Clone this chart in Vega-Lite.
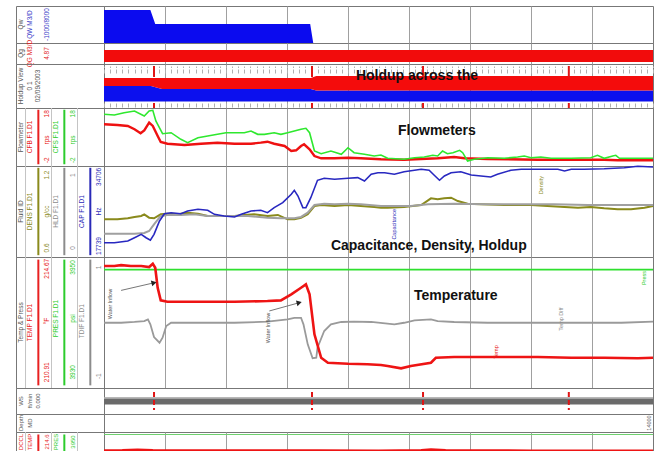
{
"$schema":"https://vega.github.io/schema/vega-lite/v6.json",
"background":"white",
"padding":{"left":15,"top":5,"right":0,"bottom":0},
"columns":2,
"spacing":0,
"bounds":"flush",
"align":"each",
"config":{"view":{"stroke":"#777777","strokeWidth":1},"concat":{"spacing":0},"font":"Liberation Sans"},
"datasets":{
"qw":[{"depth":13910,"value":89.2},{"depth":13917.6,"value":89.2},{"depth":13918.4,"value":51.4},{"depth":13943.8,"value":51.4},{"depth":13944.3,"value":0}],
"qg":[{"depth":13910,"lo":9.5,"hi":66.7},{"depth":14000,"lo":9.5,"hi":66.7}],
"holdup":[{"depth":13910,"wbot":14.8,"wtop":50,"otop":68.2},{"depth":13917.7,"wbot":14.8,"wtop":50,"otop":68.2},{"depth":13919.5,"wbot":14.8,"wtop":43.2,"otop":68.2},{"depth":13943.9,"wbot":14.8,"wtop":43.2,"otop":68.2},{"depth":13944.8,"wbot":14.8,"wtop":39.8,"otop":72.7},{"depth":14000,"wbot":14.8,"wtop":39.8,"otop":72.7}],
"markers":[{"depth":13918.2},{"depth":13944.1},{"depth":13962.3},{"depth":13986.2}],
"flow":[
{"curve":"CFS","depth":13910.0,"value":89.1},{"curve":"CFS","depth":13911.7,"value":87.9},{"curve":"CFS","depth":13913.3,"value":91.9},{"curve":"CFS","depth":13915.0,"value":94.8},{"curve":"CFS","depth":13916.6,"value":86.2},{"curve":"CFS","depth":13917.4,"value":94.8},{"curve":"CFS","depth":13918.0,"value":96.0},{"curve":"CFS","depth":13918.5,"value":77.6},{"curve":"CFS","depth":13919.6,"value":55.7},{"curve":"CFS","depth":13921.0,"value":57.4},{"curve":"CFS","depth":13922.6,"value":46.0},{"curve":"CFS","depth":13923.7,"value":40.2},{"curve":"CFS","depth":13925.4,"value":48.8},{"curve":"CFS","depth":13927.0,"value":51.7},{"curve":"CFS","depth":13928.6,"value":54.6},{"curve":"CFS","depth":13930.0,"value":57.4},{"curve":"CFS","depth":13931.4,"value":57.4},{"curve":"CFS","depth":13933.0,"value":57.4},{"curve":"CFS","depth":13934.1,"value":60.3},{"curve":"CFS","depth":13935.2,"value":54.6},{"curve":"CFS","depth":13936.3,"value":54.6},{"curve":"CFS","depth":13937.9,"value":57.4},{"curve":"CFS","depth":13939.0,"value":54.6},{"curve":"CFS","depth":13940.1,"value":57.4},{"curve":"CFS","depth":13941.2,"value":60.3},{"curve":"CFS","depth":13942.3,"value":63.3},{"curve":"CFS","depth":13943.1,"value":65.0},{"curve":"CFS","depth":13943.7,"value":57.4},{"curve":"CFS","depth":13944.5,"value":25.9},{"curve":"CFS","depth":13945.6,"value":21.2},{"curve":"CFS","depth":13947.2,"value":25.9},{"curve":"CFS","depth":13948.9,"value":20.2},{"curve":"CFS","depth":13950.0,"value":31.5},{"curve":"CFS","depth":13951.0,"value":22.9},{"curve":"CFS","depth":13952.7,"value":20.2},{"curve":"CFS","depth":13954.3,"value":17.2},{"curve":"CFS","depth":13955.4,"value":19.0},{"curve":"CFS","depth":13956.5,"value":13.3},{"curve":"CFS","depth":13959.2,"value":11.6},{"curve":"CFS","depth":13960.9,"value":14.3},{"curve":"CFS","depth":13962.5,"value":15.5},{"curve":"CFS","depth":13963.9,"value":18.4},{"curve":"CFS","depth":13964.7,"value":17.2},{"curve":"CFS","depth":13965.5,"value":25.9},{"curve":"CFS","depth":13966.3,"value":21.2},{"curve":"CFS","depth":13967.2,"value":22.9},{"curve":"CFS","depth":13968.3,"value":27.1},{"curve":"CFS","depth":13968.8,"value":22.9},{"curve":"CFS","depth":13969.6,"value":8.6},{"curve":"CFS","depth":13970.7,"value":11.6},{"curve":"CFS","depth":13972.9,"value":14.3},{"curve":"CFS","depth":13975.6,"value":13.3},{"curve":"CFS","depth":13977.8,"value":15.5},{"curve":"CFS","depth":13978.9,"value":17.2},{"curve":"CFS","depth":13980.0,"value":14.3},{"curve":"CFS","depth":13981.6,"value":15.5},{"curve":"CFS","depth":13983.3,"value":13.3},{"curve":"CFS","depth":13986.6,"value":13.3},{"curve":"CFS","depth":13989.8,"value":14.3},{"curve":"CFS","depth":13990.9,"value":18.4},{"curve":"CFS","depth":13992.0,"value":13.3},{"curve":"CFS","depth":13993.4,"value":17.2},{"curve":"CFS","depth":13993.9,"value":18.4},{"curve":"CFS","depth":13994.5,"value":13.3},{"curve":"CFS","depth":13997.5,"value":13.3},{"curve":"CFS","depth":14000.0,"value":13.3},
{"curve":"CFB","depth":13910.0,"value":71.9},{"curve":"CFB","depth":13912.2,"value":70.7},{"curve":"CFB","depth":13913.9,"value":69.0},{"curve":"CFB","depth":13915.0,"value":63.3},{"curve":"CFB","depth":13916.0,"value":56.4},{"curve":"CFB","depth":13916.6,"value":61.5},{"curve":"CFB","depth":13917.4,"value":74.7},{"curve":"CFB","depth":13918.0,"value":69.0},{"curve":"CFB","depth":13918.8,"value":51.7},{"curve":"CFB","depth":13919.3,"value":41.4},{"curve":"CFB","depth":13920.4,"value":38.4},{"curve":"CFB","depth":13923.2,"value":36.2},{"curve":"CFB","depth":13925.9,"value":38.4},{"curve":"CFB","depth":13928.6,"value":40.2},{"curve":"CFB","depth":13931.4,"value":38.4},{"curve":"CFB","depth":13934.1,"value":38.4},{"curve":"CFB","depth":13935.7,"value":40.2},{"curve":"CFB","depth":13936.8,"value":41.9},{"curve":"CFB","depth":13937.9,"value":38.4},{"curve":"CFB","depth":13939.6,"value":34.5},{"curve":"CFB","depth":13940.7,"value":25.9},{"curve":"CFB","depth":13941.5,"value":27.1},{"curve":"CFB","depth":13942.3,"value":34.5},{"curve":"CFB","depth":13942.8,"value":37.4},{"curve":"CFB","depth":13943.7,"value":28.8},{"curve":"CFB","depth":13944.5,"value":17.2},{"curve":"CFB","depth":13945.6,"value":13.3},{"curve":"CFB","depth":13947.8,"value":13.3},{"curve":"CFB","depth":13950.0,"value":14.3},{"curve":"CFB","depth":13952.1,"value":13.3},{"curve":"CFB","depth":13955.4,"value":11.6},{"curve":"CFB","depth":13959.2,"value":10.9},{"curve":"CFB","depth":13964.7,"value":13.3},{"curve":"CFB","depth":13967.4,"value":15.5},{"curve":"CFB","depth":13969.1,"value":13.3},{"curve":"CFB","depth":13972.9,"value":12.1},{"curve":"CFB","depth":13981.1,"value":10.9},{"curve":"CFB","depth":13992.0,"value":10.9},{"curve":"CFB","depth":13994.2,"value":9.8},{"curve":"CFB","depth":14000.0,"value":9.8}
],
"fluid":[
{"curve":"CAP","depth":13910.0,"value":15.7},{"curve":"CAP","depth":13911.7,"value":15.7},{"curve":"CAP","depth":13913.9,"value":17.6},{"curve":"CAP","depth":13915.0,"value":21.2},{"curve":"CAP","depth":13916.1,"value":24.9},{"curve":"CAP","depth":13916.9,"value":21.2},{"curve":"CAP","depth":13917.6,"value":18.4},{"curve":"CAP","depth":13918.2,"value":24.9},{"curve":"CAP","depth":13919.1,"value":39.6},{"curve":"CAP","depth":13919.9,"value":47.6},{"curve":"CAP","depth":13921.0,"value":48.7},{"curve":"CAP","depth":13922.6,"value":47.6},{"curve":"CAP","depth":13923.7,"value":50.6},{"curve":"CAP","depth":13925.4,"value":52.4},{"curve":"CAP","depth":13927.0,"value":51.3},{"curve":"CAP","depth":13928.1,"value":46.9},{"curve":"CAP","depth":13929.7,"value":45.1},{"curve":"CAP","depth":13931.4,"value":44.0},{"curve":"CAP","depth":13932.5,"value":46.9},{"curve":"CAP","depth":13934.1,"value":50.6},{"curve":"CAP","depth":13935.7,"value":51.3},{"curve":"CAP","depth":13936.8,"value":48.7},{"curve":"CAP","depth":13937.9,"value":54.2},{"curve":"CAP","depth":13939.3,"value":59.7},{"curve":"CAP","depth":13940.7,"value":68.9},{"curve":"CAP","depth":13941.2,"value":73.3},{"curve":"CAP","depth":13941.8,"value":67.0},{"curve":"CAP","depth":13942.6,"value":54.2},{"curve":"CAP","depth":13943.1,"value":54.2},{"curve":"CAP","depth":13943.9,"value":65.2},{"curve":"CAP","depth":13945.0,"value":84.3},{"curve":"CAP","depth":13946.1,"value":86.5},{"curve":"CAP","depth":13947.8,"value":85.4},{"curve":"CAP","depth":13950.0,"value":86.5},{"curve":"CAP","depth":13951.6,"value":87.2},{"curve":"CAP","depth":13952.7,"value":83.5},{"curve":"CAP","depth":13953.8,"value":90.9},{"curve":"CAP","depth":13954.9,"value":92.6},{"curve":"CAP","depth":13956.0,"value":92.6},{"curve":"CAP","depth":13957.6,"value":90.9},{"curve":"CAP","depth":13959.2,"value":93.7},{"curve":"CAP","depth":13960.9,"value":95.3},{"curve":"CAP","depth":13962.0,"value":96.4},{"curve":"CAP","depth":13963.3,"value":95.3},{"curve":"CAP","depth":13964.1,"value":90.1},{"curve":"CAP","depth":13965.0,"value":84.3},{"curve":"CAP","depth":13965.8,"value":89.0},{"curve":"CAP","depth":13966.9,"value":92.6},{"curve":"CAP","depth":13968.5,"value":93.7},{"curve":"CAP","depth":13970.2,"value":90.1},{"curve":"CAP","depth":13971.8,"value":89.0},{"curve":"CAP","depth":13973.4,"value":87.9},{"curve":"CAP","depth":13974.5,"value":90.9},{"curve":"CAP","depth":13976.7,"value":95.3},{"curve":"CAP","depth":13978.4,"value":96.4},{"curve":"CAP","depth":13982.2,"value":96.4},{"curve":"CAP","depth":13984.4,"value":96.4},{"curve":"CAP","depth":13985.5,"value":94.5},{"curve":"CAP","depth":13986.6,"value":96.4},{"curve":"CAP","depth":13988.7,"value":96.4},{"curve":"CAP","depth":13992.0,"value":97.0},{"curve":"CAP","depth":13995.3,"value":98.1},{"curve":"CAP","depth":13997.5,"value":99.7},{"curve":"CAP","depth":14000.0,"value":98.9},
{"curve":"DENS","depth":13910.0,"value":41.4},{"curve":"DENS","depth":13912.2,"value":41.4},{"curve":"DENS","depth":13913.9,"value":42.5},{"curve":"DENS","depth":13915.0,"value":44.0},{"curve":"DENS","depth":13916.1,"value":45.1},{"curve":"DENS","depth":13916.6,"value":46.9},{"curve":"DENS","depth":13917.4,"value":43.2},{"curve":"DENS","depth":13918.2,"value":42.5},{"curve":"DENS","depth":13919.3,"value":46.9},{"curve":"DENS","depth":13920.4,"value":47.6},{"curve":"DENS","depth":13922.1,"value":46.9},{"curve":"DENS","depth":13923.7,"value":48.7},{"curve":"DENS","depth":13925.4,"value":47.6},{"curve":"DENS","depth":13927.0,"value":45.1},{"curve":"DENS","depth":13929.2,"value":45.1},{"curve":"DENS","depth":13931.4,"value":45.1},{"curve":"DENS","depth":13933.0,"value":46.2},{"curve":"DENS","depth":13934.6,"value":46.9},{"curve":"DENS","depth":13936.8,"value":45.1},{"curve":"DENS","depth":13938.5,"value":46.2},{"curve":"DENS","depth":13940.1,"value":41.4},{"curve":"DENS","depth":13941.2,"value":41.4},{"curve":"DENS","depth":13942.3,"value":43.2},{"curve":"DENS","depth":13943.4,"value":46.9},{"curve":"DENS","depth":13944.5,"value":56.0},{"curve":"DENS","depth":13945.6,"value":57.1},{"curve":"DENS","depth":13947.8,"value":56.0},{"curve":"DENS","depth":13950.0,"value":57.1},{"curve":"DENS","depth":13952.1,"value":56.0},{"curve":"DENS","depth":13954.3,"value":55.0},{"curve":"DENS","depth":13955.4,"value":54.2},{"curve":"DENS","depth":13956.5,"value":54.2},{"curve":"DENS","depth":13959.2,"value":55.0},{"curve":"DENS","depth":13962.0,"value":57.1},{"curve":"DENS","depth":13963.6,"value":64.5},{"curve":"DENS","depth":13964.7,"value":63.4},{"curve":"DENS","depth":13965.8,"value":64.5},{"curve":"DENS","depth":13966.9,"value":65.2},{"curve":"DENS","depth":13968.0,"value":61.5},{"curve":"DENS","depth":13969.6,"value":58.6},{"curve":"DENS","depth":13971.8,"value":57.9},{"curve":"DENS","depth":13975.6,"value":57.1},{"curve":"DENS","depth":13980.0,"value":57.1},{"curve":"DENS","depth":13982.7,"value":56.0},{"curve":"DENS","depth":13985.5,"value":55.0},{"curve":"DENS","depth":13987.7,"value":54.2},{"curve":"DENS","depth":13989.8,"value":55.0},{"curve":"DENS","depth":13992.0,"value":53.5},{"curve":"DENS","depth":13994.2,"value":52.4},{"curve":"DENS","depth":13996.4,"value":52.4},{"curve":"DENS","depth":13998.6,"value":54.2},{"curve":"DENS","depth":14000.0,"value":56.0},
{"curve":"HLD","depth":13910.0,"value":25.6},{"curve":"HLD","depth":13912.2,"value":25.6},{"curve":"HLD","depth":13915.0,"value":25.6},{"curve":"HLD","depth":13916.6,"value":26.4},{"curve":"HLD","depth":13917.4,"value":28.6},{"curve":"HLD","depth":13918.2,"value":35.9},{"curve":"HLD","depth":13919.3,"value":45.1},{"curve":"HLD","depth":13920.4,"value":46.2},{"curve":"HLD","depth":13922.6,"value":46.2},{"curve":"HLD","depth":13924.8,"value":46.9},{"curve":"HLD","depth":13927.0,"value":45.1},{"curve":"HLD","depth":13930.3,"value":45.1},{"curve":"HLD","depth":13933.6,"value":45.1},{"curve":"HLD","depth":13936.8,"value":43.2},{"curve":"HLD","depth":13939.0,"value":42.5},{"curve":"HLD","depth":13941.2,"value":42.5},{"curve":"HLD","depth":13942.3,"value":44.0},{"curve":"HLD","depth":13943.4,"value":48.7},{"curve":"HLD","depth":13944.5,"value":57.1},{"curve":"HLD","depth":13946.1,"value":58.6},{"curve":"HLD","depth":13947.8,"value":57.9},{"curve":"HLD","depth":13950.0,"value":58.6},{"curve":"HLD","depth":13952.1,"value":57.9},{"curve":"HLD","depth":13955.4,"value":56.0},{"curve":"HLD","depth":13957.0,"value":56.0},{"curve":"HLD","depth":13960.3,"value":56.0},{"curve":"HLD","depth":13963.1,"value":57.9},{"curve":"HLD","depth":13967.4,"value":58.6},{"curve":"HLD","depth":13972.9,"value":57.9},{"curve":"HLD","depth":13978.4,"value":57.9},{"curve":"HLD","depth":13983.8,"value":57.9},{"curve":"HLD","depth":13989.3,"value":57.1},{"curve":"HLD","depth":13994.8,"value":57.1},{"curve":"HLD","depth":14000.0,"value":57.1}
],
"temp":[
{"curve":"PRES","depth":13910.0,"value":90.4},{"curve":"PRES","depth":14000.0,"value":90.4},
{"curve":"TEMP","depth":13910.0,"value":93.1},{"curve":"TEMP","depth":13911.7,"value":93.1},{"curve":"TEMP","depth":13912.8,"value":93.8},{"curve":"TEMP","depth":13914.4,"value":93.1},{"curve":"TEMP","depth":13916.1,"value":93.1},{"curve":"TEMP","depth":13917.4,"value":92.3},{"curve":"TEMP","depth":13918.0,"value":94.8},{"curve":"TEMP","depth":13918.4,"value":91.8},{"curve":"TEMP","depth":13918.8,"value":76.5},{"curve":"TEMP","depth":13919.3,"value":66.9},{"curve":"TEMP","depth":13920.4,"value":65.8},{"curve":"TEMP","depth":13925.9,"value":65.8},{"curve":"TEMP","depth":13931.4,"value":65.8},{"curve":"TEMP","depth":13936.8,"value":66.4},{"curve":"TEMP","depth":13939.0,"value":66.9},{"curve":"TEMP","depth":13940.7,"value":71.5},{"curve":"TEMP","depth":13942.3,"value":76.5},{"curve":"TEMP","depth":13943.1,"value":79.1},{"curve":"TEMP","depth":13943.7,"value":71.5},{"curve":"TEMP","depth":13944.5,"value":41.0},{"curve":"TEMP","depth":13945.6,"value":23.1},{"curve":"TEMP","depth":13946.7,"value":19.3},{"curve":"TEMP","depth":13950.0,"value":18.5},{"curve":"TEMP","depth":13953.2,"value":18.1},{"curve":"TEMP","depth":13955.4,"value":17.5},{"curve":"TEMP","depth":13956.5,"value":16.8},{"curve":"TEMP","depth":13958.7,"value":15.0},{"curve":"TEMP","depth":13960.3,"value":16.8},{"curve":"TEMP","depth":13963.6,"value":19.3},{"curve":"TEMP","depth":13964.4,"value":23.1},{"curve":"TEMP","depth":13967.4,"value":23.7},{"curve":"TEMP","depth":13970.2,"value":23.7},{"curve":"TEMP","depth":13975.6,"value":23.7},{"curve":"TEMP","depth":13981.1,"value":23.7},{"curve":"TEMP","depth":13986.6,"value":23.1},{"curve":"TEMP","depth":13992.0,"value":23.1},{"curve":"TEMP","depth":13997.5,"value":22.7},{"curve":"TEMP","depth":14000.0,"value":23.1},
{"curve":"TDIF","depth":13910.0,"value":49.8},{"curve":"TDIF","depth":13912.8,"value":49.8},{"curve":"TDIF","depth":13915.0,"value":50.4},{"curve":"TDIF","depth":13916.6,"value":51.1},{"curve":"TDIF","depth":13917.2,"value":52.4},{"curve":"TDIF","depth":13917.6,"value":48.6},{"curve":"TDIF","depth":13918.2,"value":38.9},{"curve":"TDIF","depth":13919.1,"value":34.6},{"curve":"TDIF","depth":13919.6,"value":38.4},{"curve":"TDIF","depth":13920.2,"value":47.3},{"curve":"TDIF","depth":13921.0,"value":49.8},{"curve":"TDIF","depth":13925.9,"value":49.8},{"curve":"TDIF","depth":13931.4,"value":49.8},{"curve":"TDIF","depth":13936.8,"value":50.6},{"curve":"TDIF","depth":13940.1,"value":52.4},{"curve":"TDIF","depth":13941.2,"value":53.6},{"curve":"TDIF","depth":13942.3,"value":53.6},{"curve":"TDIF","depth":13942.7,"value":48.6},{"curve":"TDIF","depth":13943.4,"value":33.3},{"curve":"TDIF","depth":13944.2,"value":22.7},{"curve":"TDIF","depth":13944.8,"value":23.1},{"curve":"TDIF","depth":13945.0,"value":30.7},{"curve":"TDIF","depth":13946.1,"value":43.5},{"curve":"TDIF","depth":13947.2,"value":48.6},{"curve":"TDIF","depth":13948.9,"value":50.4},{"curve":"TDIF","depth":13951.0,"value":50.6},{"curve":"TDIF","depth":13953.8,"value":50.4},{"curve":"TDIF","depth":13957.6,"value":48.6},{"curve":"TDIF","depth":13959.2,"value":49.8},{"curve":"TDIF","depth":13960.9,"value":51.7},{"curve":"TDIF","depth":13963.6,"value":52.4},{"curve":"TDIF","depth":13964.7,"value":51.1},{"curve":"TDIF","depth":13967.4,"value":50.4},{"curve":"TDIF","depth":13972.9,"value":49.8},{"curve":"TDIF","depth":13983.8,"value":49.8},{"curve":"TDIF","depth":13994.8,"value":49.8},{"curve":"TDIF","depth":14000.0,"value":50.6}
],
"arrows":[{"arrow":1,"part":"tail","depth":13912.8,"value":74.5},{"arrow":1,"part":"head","depth":13918.2,"value":80.3},{"arrow":2,"part":"tail","depth":13937.1,"value":58.8},{"arrow":2,"part":"head","depth":13942.0,"value":65.1}],
"bottom":[{"depth":13910,"value":26},{"depth":13913,"value":27},{"depth":13915.5,"value":29.5},{"depth":13918,"value":27},{"depth":13930,"value":26},{"depth":13945,"value":26.5},{"depth":13955,"value":25},{"depth":13962,"value":27},{"depth":13963.6,"value":30},{"depth":13966,"value":27},{"depth":13980,"value":25.5},{"depth":14000,"value":25}],
"span":[{"depth":13910,"end":14000}],
"notes":[
{"track":"hv","kind":"big","depth":13951.3,"value":72.7,"label":"Holdup across the","curve":"TITLE"},
{"track":"flow","kind":"big","depth":13958.2,"value":60.3,"label":"Flowmeters","curve":"TITLE"},
{"track":"fluid","kind":"big","depth":13947.2,"value":12.1,"label":"Capacitance, Density, Holdup","curve":"TITLE"},
{"track":"temp","kind":"big","depth":13960.8,"value":70.2,"label":"Temperature","curve":"TITLE"},
{"track":"fluid","kind":"small","depth":13981.6,"value":78.9,"label":"Density","curve":"DENS"},
{"track":"fluid","kind":"small","depth":13957.5,"value":35.9,"label":"Capacitance","curve":"CAP"},
{"track":"temp","kind":"small","depth":13911.0,"value":64.1,"label":"Water Inflow","curve":"TITLE"},
{"track":"temp","kind":"small","depth":13936.9,"value":45.8,"label":"Water Inflow","curve":"TITLE"},
{"track":"temp","kind":"small","depth":13998.5,"value":83.9,"label":"Press","curve":"PRES"},
{"track":"temp","kind":"small","depth":13984.9,"value":52.6,"label":"Temp Diff","curve":"TDIF"},
{"track":"temp","kind":"small","depth":13974.3,"value":27.5,"label":"Temp","curve":"TEMP"},
{"track":"depth","kind":"small","depth":13999.3,"value":50,"label":"14000","curve":"TITLE"}
],
"hdr":[
{"track":"qw","col":"t","pos":0.5,"label":"Qw","curve":"TITLE"},
{"track":"qw","col":"n1","pos":0.5,"label":"QW M3/D","curve":"QW"},
{"track":"qw","col":"s1","pos":0.5,"label":"-1000/8000","curve":"QW"},
{"track":"qg","col":"t","pos":0.5,"label":"Qg","curve":"TITLE"},
{"track":"qg","col":"n1","pos":0.5,"label":"QG M3/D","curve":"QG"},
{"track":"qg","col":"s1","pos":0.5,"label":"4.87","curve":"QG"},
{"track":"hv","col":"t","pos":0.5,"label":"Holdup View","curve":"TITLE"},
{"track":"hv","col":"n1","pos":0.5,"label":"0    1","curve":"TITLE"},
{"track":"hv","col":"l1","pos":0.5,"label":"02/09/2003","curve":"TITLE"},
{"track":"flow","col":"t","pos":0.5,"label":"Flowmeter","curve":"TITLE"},
{"track":"flow","col":"n1","pos":0.5,"label":"CFB F1.D1","curve":"CFB"},
{"track":"flow","col":"s1","pos":0.9,"label":"18","curve":"CFB"},
{"track":"flow","col":"s1","pos":0.45,"label":"rps","curve":"CFB"},
{"track":"flow","col":"s1","pos":0.1,"label":"-2","curve":"CFB"},
{"track":"flow","col":"n2","pos":0.5,"label":"CFS F1.D1","curve":"CFS"},
{"track":"flow","col":"s2","pos":0.9,"label":"18","curve":"CFS"},
{"track":"flow","col":"s2","pos":0.45,"label":"rps","curve":"CFS"},
{"track":"flow","col":"s2","pos":0.1,"label":"-2","curve":"CFS"},
{"track":"fluid","col":"t","pos":0.5,"label":"Fluid ID","curve":"TITLE"},
{"track":"fluid","col":"n1","pos":0.5,"label":"DENS F1.D1","curve":"DENS"},
{"track":"fluid","col":"s1","pos":0.9,"label":"1.2","curve":"DENS"},
{"track":"fluid","col":"s1","pos":0.5,"label":"g/cc","curve":"DENS"},
{"track":"fluid","col":"s1","pos":0.1,"label":"0.6","curve":"DENS"},
{"track":"fluid","col":"n2","pos":0.5,"label":"HLD F1.D1","curve":"HLD"},
{"track":"fluid","col":"s2","pos":0.9,"label":"1","curve":"HLD"},
{"track":"fluid","col":"s2","pos":0.1,"label":"0","curve":"HLD"},
{"track":"fluid","col":"n3","pos":0.5,"label":"CAP F1.D1","curve":"CAP"},
{"track":"fluid","col":"s3","pos":0.88,"label":"34706","curve":"CAP"},
{"track":"fluid","col":"s3","pos":0.5,"label":"Hz","curve":"CAP"},
{"track":"fluid","col":"s3","pos":0.12,"label":"17739","curve":"CAP"},
{"track":"temp","col":"t","pos":0.5,"label":"Temp & Press","curve":"TITLE"},
{"track":"temp","col":"n1","pos":0.5,"label":"TEMP F1.D1","curve":"TEMP"},
{"track":"temp","col":"s1","pos":0.91,"label":"214.67","curve":"TEMP"},
{"track":"temp","col":"s1","pos":0.51,"label":"°F","curve":"TEMP"},
{"track":"temp","col":"s1","pos":0.12,"label":"210.91","curve":"TEMP"},
{"track":"temp","col":"n2","pos":0.53,"label":"PRES F1.D1","curve":"PRES"},
{"track":"temp","col":"s2","pos":0.92,"label":"3950","curve":"PRES"},
{"track":"temp","col":"s2","pos":0.53,"label":"psi","curve":"PRES"},
{"track":"temp","col":"s2","pos":0.12,"label":"3930","curve":"PRES"},
{"track":"temp","col":"n3","pos":0.51,"label":"TDIF F1.D1","curve":"TDIF"},
{"track":"temp","col":"s3","pos":0.92,"label":"1","curve":"TDIF"},
{"track":"temp","col":"s3","pos":0.09,"label":"-1","curve":"TDIF"},
{"track":"ws","col":"t","pos":0.5,"label":"WS","curve":"TITLE"},
{"track":"ws","col":"n1","pos":0.5,"label":"ft/min","curve":"TITLE"},
{"track":"ws","col":"l1","pos":0.5,"label":"0.000","curve":"TITLE"},
{"track":"depth","col":"t","pos":0.5,"label":"Depth","curve":"TITLE"},
{"track":"depth","col":"n1","pos":0.5,"label":"MD","curve":"TITLE"},
{"track":"bot","col":"t","pos":0.6,"label":"DCCL","curve":"TEMP"},
{"track":"bot","col":"n1","pos":0.6,"label":"TEMP","curve":"TEMP"},
{"track":"bot","col":"s1","pos":0.6,"label":"214.6","curve":"TEMP"},
{"track":"bot","col":"n2","pos":0.6,"label":"PRES","curve":"PRES"},
{"track":"bot","col":"s2","pos":0.6,"label":"3950","curve":"PRES"}
],
"hdrlines":[
{"track":"flow","col":"l1","curve":"CFB"},{"track":"flow","col":"l2","curve":"CFS"},
{"track":"fluid","col":"l1","curve":"DENS"},{"track":"fluid","col":"l2","curve":"HLD"},{"track":"fluid","col":"l3","curve":"CAP"},
{"track":"temp","col":"l1","curve":"TEMP"},{"track":"temp","col":"l2","curve":"PRES"},{"track":"temp","col":"l3","curve":"TDIF"},
{"track":"bot","col":"l1","curve":"TEMP"},{"track":"bot","col":"l2","curve":"PRES"}
],
"hdrsep":[
{"track":"flow","col":"t"},{"track":"flow","col":"s1"},{"track":"flow","col":"s2"},
{"track":"fluid","col":"t"},{"track":"fluid","col":"s1"},{"track":"fluid","col":"s2"},
{"track":"temp","col":"t"},{"track":"temp","col":"s1"},{"track":"temp","col":"s2"},
{"track":"bot","col":"t"},{"track":"bot","col":"s1"},{"track":"bot","col":"s2"}
]
},
"concat":[
 {"width":88,"height":37,"data":{"name":"hdr"},"transform":[{"filter":"datum.track == 'qw'"}],"mark":{"type":"text","angle":270,"fontSize":6.5},
  "encoding":{"x":{"field":"col","type":"ordinal","scale":{"type":"point","domain":["t","n1","l1","s1","n2","l2","s2","n3","l3","s3"],"padding":0.58},"axis":null},"y":{"field":"pos","type":"quantitative","scale":{"domain":[0,1],"nice":false,"zero":false},"axis":null},"text":{"field":"label"},"color":{"field":"curve","type":"nominal","scale":{"domain":["TITLE","QW","QG","CFB","CFS","DENS","HLD","CAP","TEMP","PRES","TDIF"],"range":["#555555","#3a3ac8","#e02020","#e82020","#2ccc2c","#8a8a1c","#8c8c8c","#2a2ab8","#e82020","#2ccc2c","#8c8c8c"]},"legend":null}}},
 {"width":549,"height":37,"data":{"name":"qw"},"mark":{"type":"area","color":"#0b0bef","interpolate":"linear"},
  "encoding":{"x":{"field":"depth","type":"quantitative","scale":{"domain":[13910,14000],"nice":false,"zero":false},"axis":{"values":[13920,13930,13940,13950,13960,13970,13980,13990],"grid":true,"gridColor":"#a0a0a0","labels":false,"ticks":false,"domain":false,"title":null}},"y":{"field":"value","type":"quantitative","scale":{"domain":[0,100],"nice":false,"zero":false},"axis":null},"y2":{"datum":0}}},
 {"width":88,"height":21,"data":{"name":"hdr"},"transform":[{"filter":"datum.track == 'qg'"}],"mark":{"type":"text","angle":270,"fontSize":6.5},
  "encoding":{"x":{"field":"col","type":"ordinal","scale":{"type":"point","domain":["t","n1","l1","s1","n2","l2","s2","n3","l3","s3"],"padding":0.58},"axis":null},"y":{"field":"pos","type":"quantitative","scale":{"domain":[0,1],"nice":false,"zero":false},"axis":null},"text":{"field":"label"},"color":{"field":"curve","type":"nominal","scale":{"domain":["TITLE","QW","QG","CFB","CFS","DENS","HLD","CAP","TEMP","PRES","TDIF"],"range":["#555555","#3a3ac8","#e02020","#e82020","#2ccc2c","#8a8a1c","#8c8c8c","#2a2ab8","#e82020","#2ccc2c","#8c8c8c"]},"legend":null}}},
 {"width":549,"height":21,"data":{"name":"qg"},"mark":{"type":"area","color":"#f20c0c"},
  "encoding":{"x":{"field":"depth","type":"quantitative","scale":{"domain":[13910,14000],"nice":false,"zero":false},"axis":{"values":[13920,13930,13940,13950,13960,13970,13980,13990],"grid":true,"gridColor":"#a0a0a0","labels":false,"ticks":false,"domain":false,"title":null}},"y":{"field":"hi","type":"quantitative","scale":{"domain":[0,100],"nice":false,"zero":false},"axis":null},"y2":{"field":"lo"}}},
 {"width":88,"height":44,"data":{"name":"hdr"},"transform":[{"filter":"datum.track == 'hv'"}],"mark":{"type":"text","angle":270,"fontSize":6.5},
  "encoding":{"x":{"field":"col","type":"ordinal","scale":{"type":"point","domain":["t","n1","l1","s1","n2","l2","s2","n3","l3","s3"],"padding":0.58},"axis":null},"y":{"field":"pos","type":"quantitative","scale":{"domain":[0,1],"nice":false,"zero":false},"axis":null},"text":{"field":"label"},"color":{"field":"curve","type":"nominal","scale":{"domain":["TITLE","QW","QG","CFB","CFS","DENS","HLD","CAP","TEMP","PRES","TDIF"],"range":["#555555","#3a3ac8","#e02020","#e82020","#2ccc2c","#8a8a1c","#8c8c8c","#2a2ab8","#e82020","#2ccc2c","#8c8c8c"]},"legend":null}}},
 {"width":549,"height":44,
  "layer":[
   {"data":{"name":"holdup"},"mark":{"type":"area","color":"#0c10ee"},
    "encoding":{"x":{"field":"depth","type":"quantitative","scale":{"domain":[13910,14000],"nice":false,"zero":false},"axis":{"values":[13920,13930,13940,13950,13960,13970,13980,13990],"grid":true,"gridColor":"#a0a0a0","labels":false,"ticks":false,"domain":false,"title":null}},"y":{"field":"wbot","type":"quantitative","scale":{"domain":[0,100],"nice":false,"zero":false},"axis":null},"y2":{"field":"wtop"}}},
   {"data":{"name":"holdup"},"mark":{"type":"area","color":"#f40c0c"},
    "encoding":{"x":{"field":"depth","type":"quantitative","scale":{"domain":[13910,14000],"nice":false,"zero":false},"axis":{"orient":"top","offset":-9,"tickCount":90,"tickSize":7,"tickColor":"#b0b0b0","tickWidth":1,"tickDash":[4,1.5],"labels":false,"domain":false,"grid":false,"title":null}},"y":{"field":"wtop","type":"quantitative","scale":{"domain":[0,100],"nice":false,"zero":false},"axis":null},"y2":{"field":"otop"}}},
   {"data":{"name":"markers"},"mark":{"type":"rule","color":"#e01515","strokeWidth":2},
    "encoding":{"x":{"field":"depth","type":"quantitative","scale":{"domain":[13910,14000],"nice":false,"zero":false},"axis":{"orient":"bottom","offset":-5,"tickCount":90,"tickSize":4,"tickColor":"#b0b0b0","tickWidth":1,"labels":false,"domain":false,"grid":false,"title":null}},"y":{"datum":95.5,"type":"quantitative","scale":{"domain":[0,100],"nice":false,"zero":false},"axis":null},"y2":{"datum":70.5}}},
   {"data":{"name":"markers"},"mark":{"type":"rule","color":"#e01515","strokeWidth":2},
    "encoding":{"x":{"field":"depth","type":"quantitative","scale":{"domain":[13910,14000],"nice":false,"zero":false},"axis":null},"y":{"datum":11.4,"type":"quantitative","scale":{"domain":[0,100],"nice":false,"zero":false},"axis":null},"y2":{"datum":0}}},
   {"data":{"name":"notes"},"transform":[{"filter":"datum.track == 'hv' && datum.kind == 'big'"}],"mark":{"type":"text","fontSize":14,"fontWeight":"bold","align":"left","baseline":"middle","color":"#111111"},
    "encoding":{"x":{"field":"depth","type":"quantitative","scale":{"domain":[13910,14000],"nice":false,"zero":false},"axis":null},"y":{"field":"value","type":"quantitative","scale":{"domain":[0,100],"nice":false,"zero":false},"axis":null},"text":{"field":"label"}}}
  ],
  "resolve":{"axis":{"x":"independent"}}},
 {"width":88,"height":58,
  "encoding":{"x":{"field":"col","type":"ordinal","scale":{"type":"point","domain":["t","n1","l1","s1","n2","l2","s2","n3","l3","s3"],"padding":0.58},"axis":null}},
  "layer":[
   {"data":{"name":"hdrsep"},"transform":[{"filter":"datum.track == 'flow'"}],"mark":{"type":"rule","xOffset":4.5,"color":"#c4c4c4","strokeWidth":1},"encoding":{"y":{"datum":0,"type":"quantitative","scale":{"domain":[0,1],"nice":false,"zero":false},"axis":null},"y2":{"datum":1}}},
   {"data":{"name":"hdrlines"},"transform":[{"filter":"datum.track == 'flow'"}],"mark":{"type":"rule","strokeWidth":2},"encoding":{"y":{"datum":0.03,"type":"quantitative","scale":{"domain":[0,1],"nice":false,"zero":false},"axis":null},"y2":{"datum":0.97},"color":{"field":"curve","type":"nominal","scale":{"domain":["TITLE","QW","QG","CFB","CFS","DENS","HLD","CAP","TEMP","PRES","TDIF"],"range":["#555555","#3a3ac8","#e02020","#e82020","#2ccc2c","#8a8a1c","#8c8c8c","#2a2ab8","#e82020","#2ccc2c","#8c8c8c"]},"legend":null}}},
   {"data":{"name":"hdr"},"transform":[{"filter":"datum.track == 'flow'"}],"mark":{"type":"text","angle":270,"fontSize":6.5},"encoding":{"y":{"field":"pos","type":"quantitative","scale":{"domain":[0,1],"nice":false,"zero":false},"axis":null},"text":{"field":"label"},"color":{"field":"curve","type":"nominal","scale":{"domain":["TITLE","QW","QG","CFB","CFS","DENS","HLD","CAP","TEMP","PRES","TDIF"],"range":["#555555","#3a3ac8","#e02020","#e82020","#2ccc2c","#8a8a1c","#8c8c8c","#2a2ab8","#e82020","#2ccc2c","#8c8c8c"]},"legend":null}}}
  ]},
 {"width":549,"height":58,"data":{"name":"flow"},
  "encoding":{"x":{"field":"depth","type":"quantitative","scale":{"domain":[13910,14000],"nice":false,"zero":false},"axis":{"values":[13920,13930,13940,13950,13960,13970,13980,13990],"grid":true,"gridColor":"#a0a0a0","labels":false,"ticks":false,"domain":false,"title":null}}},
  "layer":[
   {"transform":[{"filter":"datum.curve == 'CFB'"}],"mark":{"type":"line","color":"#ee1111","strokeWidth":2.4},"encoding":{"y":{"field":"value","type":"quantitative","scale":{"domain":[0,100],"nice":false,"zero":false},"axis":null}}},
   {"transform":[{"filter":"datum.curve == 'CFS'"}],"mark":{"type":"line","color":"#2ee82e","strokeWidth":1.6},"encoding":{"y":{"field":"value","type":"quantitative","scale":{"domain":[0,100],"nice":false,"zero":false},"axis":null}}},
   {"data":{"name":"notes"},"transform":[{"filter":"datum.track == 'flow' && datum.kind == 'big'"}],"mark":{"type":"text","fontSize":14,"fontWeight":"bold","align":"left","baseline":"middle","color":"#111111"},"encoding":{"y":{"field":"value","type":"quantitative","scale":{"domain":[0,100],"nice":false,"zero":false},"axis":null},"text":{"field":"label"}}}
  ]},
 {"width":88,"height":91,
  "encoding":{"x":{"field":"col","type":"ordinal","scale":{"type":"point","domain":["t","n1","l1","s1","n2","l2","s2","n3","l3","s3"],"padding":0.58},"axis":null}},
  "layer":[
   {"data":{"name":"hdrsep"},"transform":[{"filter":"datum.track == 'fluid'"}],"mark":{"type":"rule","xOffset":4.5,"color":"#c4c4c4","strokeWidth":1},"encoding":{"y":{"datum":0,"type":"quantitative","scale":{"domain":[0,1],"nice":false,"zero":false},"axis":null},"y2":{"datum":1}}},
   {"data":{"name":"hdrlines"},"transform":[{"filter":"datum.track == 'fluid'"}],"mark":{"type":"rule","strokeWidth":2},"encoding":{"y":{"datum":0.02,"type":"quantitative","scale":{"domain":[0,1],"nice":false,"zero":false},"axis":null},"y2":{"datum":0.98},"color":{"field":"curve","type":"nominal","scale":{"domain":["TITLE","QW","QG","CFB","CFS","DENS","HLD","CAP","TEMP","PRES","TDIF"],"range":["#555555","#3a3ac8","#e02020","#e82020","#2ccc2c","#8a8a1c","#8c8c8c","#2a2ab8","#e82020","#2ccc2c","#8c8c8c"]},"legend":null}}},
   {"data":{"name":"hdr"},"transform":[{"filter":"datum.track == 'fluid'"}],"mark":{"type":"text","angle":270,"fontSize":6.5},"encoding":{"y":{"field":"pos","type":"quantitative","scale":{"domain":[0,1],"nice":false,"zero":false},"axis":null},"text":{"field":"label"},"color":{"field":"curve","type":"nominal","scale":{"domain":["TITLE","QW","QG","CFB","CFS","DENS","HLD","CAP","TEMP","PRES","TDIF"],"range":["#555555","#3a3ac8","#e02020","#e82020","#2ccc2c","#8a8a1c","#8c8c8c","#2a2ab8","#e82020","#2ccc2c","#8c8c8c"]},"legend":null}}}
  ]},
 {"width":549,"height":91,"data":{"name":"fluid"},
  "encoding":{"x":{"field":"depth","type":"quantitative","scale":{"domain":[13910,14000],"nice":false,"zero":false},"axis":{"values":[13920,13930,13940,13950,13960,13970,13980,13990],"grid":true,"gridColor":"#a0a0a0","labels":false,"ticks":false,"domain":false,"title":null}}},
  "layer":[
   {"transform":[{"filter":"datum.curve == 'DENS'"}],"mark":{"type":"line","color":"#8a8a1c","strokeWidth":2},"encoding":{"y":{"field":"value","type":"quantitative","scale":{"domain":[0,100],"nice":false,"zero":false},"axis":null}}},
   {"transform":[{"filter":"datum.curve == 'HLD'"}],"mark":{"type":"line","color":"#a0a0a0","strokeWidth":2},"encoding":{"y":{"field":"value","type":"quantitative","scale":{"domain":[0,100],"nice":false,"zero":false},"axis":null}}},
   {"transform":[{"filter":"datum.curve == 'CAP'"}],"mark":{"type":"line","color":"#2828c0","strokeWidth":1.6},"encoding":{"y":{"field":"value","type":"quantitative","scale":{"domain":[0,100],"nice":false,"zero":false},"axis":null}}},
   {"data":{"name":"notes"},"transform":[{"filter":"datum.track == 'fluid' && datum.kind == 'big'"}],"mark":{"type":"text","fontSize":14,"fontWeight":"bold","align":"left","baseline":"middle","color":"#111111"},"encoding":{"y":{"field":"value","type":"quantitative","scale":{"domain":[0,100],"nice":false,"zero":false},"axis":null},"text":{"field":"label"}}},
   {"data":{"name":"notes"},"transform":[{"filter":"datum.track == 'fluid' && datum.kind == 'small'"}],"mark":{"type":"text","fontSize":5.5,"angle":270},"encoding":{"y":{"field":"value","type":"quantitative","scale":{"domain":[0,100],"nice":false,"zero":false},"axis":null},"text":{"field":"label"},"color":{"field":"curve","type":"nominal","scale":{"domain":["TITLE","QW","QG","CFB","CFS","DENS","HLD","CAP","TEMP","PRES","TDIF"],"range":["#555555","#3a3ac8","#e02020","#e82020","#2ccc2c","#8a8a1c","#8c8c8c","#2a2ab8","#e82020","#2ccc2c","#8c8c8c"]},"legend":null}}}
  ]},
 {"width":88,"height":131,
  "encoding":{"x":{"field":"col","type":"ordinal","scale":{"type":"point","domain":["t","n1","l1","s1","n2","l2","s2","n3","l3","s3"],"padding":0.58},"axis":null}},
  "layer":[
   {"data":{"name":"hdrsep"},"transform":[{"filter":"datum.track == 'temp'"}],"mark":{"type":"rule","xOffset":4.5,"color":"#c4c4c4","strokeWidth":1},"encoding":{"y":{"datum":0,"type":"quantitative","scale":{"domain":[0,1],"nice":false,"zero":false},"axis":null},"y2":{"datum":1}}},
   {"data":{"name":"hdrlines"},"transform":[{"filter":"datum.track == 'temp'"}],"mark":{"type":"rule","strokeWidth":2},"encoding":{"y":{"datum":0.02,"type":"quantitative","scale":{"domain":[0,1],"nice":false,"zero":false},"axis":null},"y2":{"datum":0.98},"color":{"field":"curve","type":"nominal","scale":{"domain":["TITLE","QW","QG","CFB","CFS","DENS","HLD","CAP","TEMP","PRES","TDIF"],"range":["#555555","#3a3ac8","#e02020","#e82020","#2ccc2c","#8a8a1c","#8c8c8c","#2a2ab8","#e82020","#2ccc2c","#8c8c8c"]},"legend":null}}},
   {"data":{"name":"hdr"},"transform":[{"filter":"datum.track == 'temp'"}],"mark":{"type":"text","angle":270,"fontSize":6.5},"encoding":{"y":{"field":"pos","type":"quantitative","scale":{"domain":[0,1],"nice":false,"zero":false},"axis":null},"text":{"field":"label"},"color":{"field":"curve","type":"nominal","scale":{"domain":["TITLE","QW","QG","CFB","CFS","DENS","HLD","CAP","TEMP","PRES","TDIF"],"range":["#555555","#3a3ac8","#e02020","#e82020","#2ccc2c","#8a8a1c","#8c8c8c","#2a2ab8","#e82020","#2ccc2c","#8c8c8c"]},"legend":null}}}
  ]},
 {"width":549,"height":131,"data":{"name":"temp"},
  "encoding":{"x":{"field":"depth","type":"quantitative","scale":{"domain":[13910,14000],"nice":false,"zero":false},"axis":{"values":[13920,13930,13940,13950,13960,13970,13980,13990],"grid":true,"gridColor":"#a0a0a0","labels":false,"ticks":false,"domain":false,"title":null}}},
  "layer":[
   {"transform":[{"filter":"datum.curve == 'PRES'"}],"mark":{"type":"line","color":"#2ee02e","strokeWidth":1.8},"encoding":{"y":{"field":"value","type":"quantitative","scale":{"domain":[0,100],"nice":false,"zero":false},"axis":null}}},
   {"transform":[{"filter":"datum.curve == 'TDIF'"}],"mark":{"type":"line","color":"#9a9a9a","strokeWidth":1.8},"encoding":{"y":{"field":"value","type":"quantitative","scale":{"domain":[0,100],"nice":false,"zero":false},"axis":null}}},
   {"transform":[{"filter":"datum.curve == 'TEMP'"}],"mark":{"type":"line","color":"#ee1414","strokeWidth":2.6},"encoding":{"y":{"field":"value","type":"quantitative","scale":{"domain":[0,100],"nice":false,"zero":false},"axis":null}}},
   {"data":{"name":"arrows"},"mark":{"type":"line","color":"#777777","strokeWidth":1},"encoding":{"y":{"field":"value","type":"quantitative","scale":{"domain":[0,100],"nice":false,"zero":false},"axis":null},"detail":{"field":"arrow"}}},
   {"data":{"name":"arrows"},"transform":[{"filter":"datum.part == 'head'"}],"mark":{"type":"point","shape":"triangle-right","angle":-14,"size":35,"filled":true,"color":"#222222","opacity":1},"encoding":{"y":{"field":"value","type":"quantitative","scale":{"domain":[0,100],"nice":false,"zero":false},"axis":null}}},
   {"data":{"name":"notes"},"transform":[{"filter":"datum.track == 'temp' && datum.kind == 'big'"}],"mark":{"type":"text","fontSize":14,"fontWeight":"bold","align":"left","baseline":"middle","color":"#111111"},"encoding":{"y":{"field":"value","type":"quantitative","scale":{"domain":[0,100],"nice":false,"zero":false},"axis":null},"text":{"field":"label"}}},
   {"data":{"name":"notes"},"transform":[{"filter":"datum.track == 'temp' && datum.kind == 'small'"}],"mark":{"type":"text","fontSize":5.5,"angle":270},"encoding":{"y":{"field":"value","type":"quantitative","scale":{"domain":[0,100],"nice":false,"zero":false},"axis":null},"text":{"field":"label"},"color":{"field":"curve","type":"nominal","scale":{"domain":["TITLE","QW","QG","CFB","CFS","DENS","HLD","CAP","TEMP","PRES","TDIF"],"range":["#555555","#3a3ac8","#e02020","#e82020","#2ccc2c","#8a8a1c","#8c8c8c","#2a2ab8","#e82020","#2ccc2c","#8c8c8c"]},"legend":null}}}
  ]},
 {"width":88,"height":26,"data":{"name":"hdr"},"transform":[{"filter":"datum.track == 'ws'"}],"mark":{"type":"text","angle":270,"fontSize":6},
  "encoding":{"x":{"field":"col","type":"ordinal","scale":{"type":"point","domain":["t","n1","l1","s1","n2","l2","s2","n3","l3","s3"],"padding":0.58},"axis":null},"y":{"field":"pos","type":"quantitative","scale":{"domain":[0,1],"nice":false,"zero":false},"axis":null},"text":{"field":"label"},"color":{"field":"curve","type":"nominal","scale":{"domain":["TITLE","QW","QG","CFB","CFS","DENS","HLD","CAP","TEMP","PRES","TDIF"],"range":["#555555","#3a3ac8","#e02020","#e82020","#2ccc2c","#8a8a1c","#8c8c8c","#2a2ab8","#e82020","#2ccc2c","#8c8c8c"]},"legend":null}}},
 {"width":549,"height":26,
  "encoding":{"x":{"field":"depth","type":"quantitative","scale":{"domain":[13910,14000],"nice":false,"zero":false},"axis":null}},
  "layer":[
   {"data":{"name":"span"},"mark":{"type":"rule","color":"#6a6a6a","strokeWidth":7},"encoding":{"x2":{"field":"end"},"y":{"datum":50,"type":"quantitative","scale":{"domain":[0,100],"nice":false,"zero":false},"axis":null}}},
   {"data":{"name":"span"},"mark":{"type":"rule","color":"#b8b8b8","strokeWidth":1.5},"encoding":{"x2":{"field":"end"},"y":{"datum":61.5,"type":"quantitative","scale":{"domain":[0,100],"nice":false,"zero":false},"axis":null}}},
   {"data":{"name":"markers"},"mark":{"type":"rule","color":"#e01515","strokeWidth":2,"strokeDash":[5,3]},"encoding":{"y":{"datum":84.6,"type":"quantitative","scale":{"domain":[0,100],"nice":false,"zero":false},"axis":null},"y2":{"datum":15.4}}}
  ]},
 {"width":88,"height":18,"data":{"name":"hdr"},"transform":[{"filter":"datum.track == 'depth'"}],"mark":{"type":"text","angle":270,"fontSize":6},
  "encoding":{"x":{"field":"col","type":"ordinal","scale":{"type":"point","domain":["t","n1","l1","s1","n2","l2","s2","n3","l3","s3"],"padding":0.58},"axis":null},"y":{"field":"pos","type":"quantitative","scale":{"domain":[0,1],"nice":false,"zero":false},"axis":null},"text":{"field":"label"},"color":{"field":"curve","type":"nominal","scale":{"domain":["TITLE","QW","QG","CFB","CFS","DENS","HLD","CAP","TEMP","PRES","TDIF"],"range":["#555555","#3a3ac8","#e02020","#e82020","#2ccc2c","#8a8a1c","#8c8c8c","#2a2ab8","#e82020","#2ccc2c","#8c8c8c"]},"legend":null}}},
 {"width":549,"height":18,"data":{"name":"notes"},"transform":[{"filter":"datum.track == 'depth'"}],"mark":{"type":"text","fontSize":5.5,"angle":270,"color":"#555555"},
  "encoding":{"x":{"field":"depth","type":"quantitative","scale":{"domain":[13910,14000],"nice":false,"zero":false},"axis":null},"y":{"field":"value","type":"quantitative","scale":{"domain":[0,100],"nice":false,"zero":false},"axis":null},"text":{"field":"label"}}},
 {"width":88,"height":25,
  "encoding":{"x":{"field":"col","type":"ordinal","scale":{"type":"point","domain":["t","n1","l1","s1","n2","l2","s2","n3","l3","s3"],"padding":0.58},"axis":null}},
  "layer":[
   {"data":{"name":"hdrsep"},"transform":[{"filter":"datum.track == 'bot'"}],"mark":{"type":"rule","xOffset":4.5,"color":"#c4c4c4","strokeWidth":1},"encoding":{"y":{"datum":0,"type":"quantitative","scale":{"domain":[0,1],"nice":false,"zero":false},"axis":null},"y2":{"datum":1}}},
   {"data":{"name":"hdrlines"},"transform":[{"filter":"datum.track == 'bot'"}],"mark":{"type":"rule","strokeWidth":2},"encoding":{"y":{"datum":0.0,"type":"quantitative","scale":{"domain":[0,1],"nice":false,"zero":false},"axis":null},"y2":{"datum":0.9},"color":{"field":"curve","type":"nominal","scale":{"domain":["TITLE","QW","QG","CFB","CFS","DENS","HLD","CAP","TEMP","PRES","TDIF"],"range":["#555555","#3a3ac8","#e02020","#e82020","#2ccc2c","#8a8a1c","#8c8c8c","#2a2ab8","#e82020","#2ccc2c","#8c8c8c"]},"legend":null}}},
   {"data":{"name":"hdr"},"transform":[{"filter":"datum.track == 'bot'"}],"mark":{"type":"text","angle":270,"fontSize":6},"encoding":{"y":{"field":"pos","type":"quantitative","scale":{"domain":[0,1],"nice":false,"zero":false},"axis":null},"text":{"field":"label"},"color":{"field":"curve","type":"nominal","scale":{"domain":["TITLE","QW","QG","CFB","CFS","DENS","HLD","CAP","TEMP","PRES","TDIF"],"range":["#555555","#3a3ac8","#e02020","#e82020","#2ccc2c","#8a8a1c","#8c8c8c","#2a2ab8","#e82020","#2ccc2c","#8c8c8c"]},"legend":null}}}
  ]},
 {"width":549,"height":25,
  "encoding":{"x":{"field":"depth","type":"quantitative","scale":{"domain":[13910,14000],"nice":false,"zero":false},"axis":{"values":[13920,13930,13940,13950,13960,13970,13980,13990],"grid":true,"gridColor":"#a0a0a0","labels":false,"ticks":false,"domain":false,"title":null}}},
  "layer":[
   {"data":{"name":"span"},"mark":{"type":"rule","color":"#6fd06f","strokeWidth":1},"encoding":{"x2":{"field":"end"},"y":{"datum":90,"type":"quantitative","scale":{"domain":[0,100],"nice":false,"zero":false},"axis":null}}},
   {"data":{"name":"bottom"},"mark":{"type":"line","color":"#ee1414","strokeWidth":2.4},"encoding":{"y":{"field":"value","type":"quantitative","scale":{"domain":[0,100],"nice":false,"zero":false},"axis":null}}}
  ]}
]
}
